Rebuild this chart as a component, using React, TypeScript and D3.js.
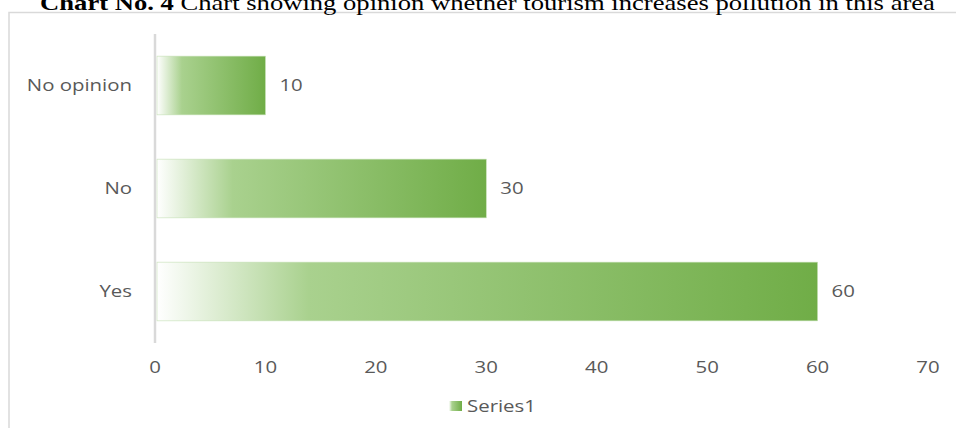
import React from "react";
import * as d3 from "d3";

const categories = ["No opinion", "No", "Yes"];
const values = [10, 30, 60];
const xTicks = [0, 10, 20, 30, 40, 50, 60, 70];
const seriesName = "Series1";
const titleBold = "Chart No. 4";
const titleRest = " Chart showing opinion whether tourism increases pollution in this area";

const W = 956;
const H = 428;
const SX = 1.2;

function SText(props: { x: number; y: number; anchor?: string; children: React.ReactNode }) {
  return (
    <g transform={`translate(${props.x},${props.y}) scale(${SX},1)`}>
      <text x={0} y={0} dy="0.35em" textAnchor={props.anchor || "start"} fontFamily="'Open Sans', 'DejaVu Sans', sans-serif" fontSize={17} fill="#595959">
        {props.children}
      </text>
    </g>
  );
}

export default function App() {
  const x = d3.scaleLinear().domain([0, 70]).range([155, 928]);
  const y = d3.scaleBand().domain(categories).range([34, 343]).paddingInner(0.43).paddingOuter(0.215);
  return (
    <svg width={W} height={H} style={{ position: "absolute", left: 0, top: 0, background: "#fff" }}>
      <defs>
        <linearGradient id="barGrad" x1="0" y1="0" x2="1" y2="0">
          <stop offset="0" stopColor="#ffffff" />
          <stop offset="0.23" stopColor="#a9d18e" />
          <stop offset="1" stopColor="#70ad47" />
        </linearGradient>
      </defs>
      <rect x={9} y={12.5} width={W} height={H} fill="#fff" stroke="#d9d9d9" strokeWidth={1.5} />
      <g transform={`translate(487.5,9.5) scale(1.21,1)`}>
        <text x={0} y={0} textAnchor="middle" fontFamily="'Liberation Serif', 'Times New Roman', serif" fontSize={22} fill="#000">
          <tspan fontWeight="bold">{titleBold}</tspan>
          <tspan>{titleRest}</tspan>
        </text>
      </g>
      {categories.map((c, i) => (
        <g key={c}>
          <rect x={x(0) + 2} y={y(c)} width={x(values[i]) - x(0) - 2} height={y.bandwidth()} fill="url(#barGrad)" stroke="#c5e0b4" strokeWidth={0.6} />
          <SText x={x(values[i]) + 14} y={y(c)! + y.bandwidth() / 2}>{values[i]}</SText>
          <SText x={132} y={y(c)! + y.bandwidth() / 2} anchor="end">{c}</SText>
        </g>
      ))}
      <line x1={x(0)} x2={x(0)} y1={34} y2={343} stroke="#d9d9d9" strokeWidth={2.5} />
      {xTicks.map((t) => (
        <SText key={t} x={x(t)} y={367} anchor="middle">{t}</SText>
      ))}
      <rect x={449} y={401} width={13} height={10} fill="url(#barGrad)" />
      <SText x={467} y={406}>{seriesName}</SText>
    </svg>
  );
}
